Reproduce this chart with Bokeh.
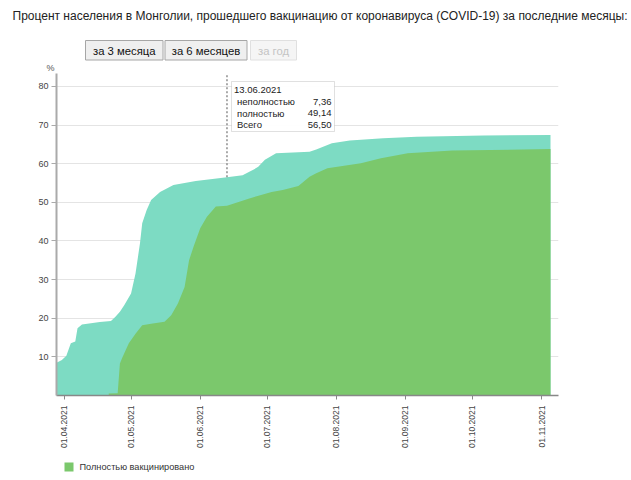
import numpy as np
import pandas as pd
from datetime import datetime
from bokeh.plotting import figure
from bokeh.layouts import column
from bokeh.models import (Range1d, FixedTicker, DatetimeTickFormatter,
                          BoxAnnotation, ColumnDataSource, Label)
from bokeh.core.properties import value
from bokeh.embed import file_html
from bokeh.resources import INLINE

# ---------------- data ----------------
total_dates = ["2021-03-28", "2021-03-31", "2021-04-02", "2021-04-04", "2021-04-06",
               "2021-04-07", "2021-04-09", "2021-04-17", "2021-04-22", "2021-04-24",
               "2021-04-26", "2021-04-28", "2021-05-01", "2021-05-03", "2021-05-05",
               "2021-05-06", "2021-05-08", "2021-05-10", "2021-05-14", "2021-05-20",
               "2021-05-30", "2021-06-13", "2021-06-20", "2021-06-23", "2021-06-25",
               "2021-06-27", "2021-06-30", "2021-07-05", "2021-07-20", "2021-07-23",
               "2021-07-30", "2021-08-07", "2021-08-22", "2021-09-06", "2021-10-06",
               "2021-11-05"]
total_values = [8.3, 9.2, 10.3, 13.5, 14.0,
                17.4, 18.4, 19.0, 19.3, 20.4,
                21.7, 23.4, 26.4, 31.6, 39.4,
                44.6, 48.0, 50.6, 52.7, 54.5,
                55.5, 56.5, 57.0, 57.9, 58.5,
                59.2, 61.0, 62.7, 63.1, 63.7,
                65.3, 66.0, 66.6, 67.0, 67.3,
                67.4]

full_dates = ["2021-04-21", "2021-04-25", "2021-04-26", "2021-04-27", "2021-04-30",
              "2021-05-03", "2021-05-06", "2021-05-10", "2021-05-16", "2021-05-19",
              "2021-05-22", "2021-05-25", "2021-05-27", "2021-05-29", "2021-06-01",
              "2021-06-04", "2021-06-08", "2021-06-13", "2021-06-23", "2021-07-03",
              "2021-07-08", "2021-07-15", "2021-07-20", "2021-07-23", "2021-07-28",
              "2021-08-12", "2021-08-21", "2021-09-02", "2021-09-22", "2021-11-05"]
full_values = [0.5, 0.6, 8.3, 9.7, 13.5,
               16.0, 18.2, 18.6, 19.1, 20.8,
               23.8, 28.1, 35.0, 38.5, 43.3,
               46.3, 48.9, 49.14, 51.0, 52.7,
               53.2, 54.2, 56.6, 57.5, 58.8,
               60.1, 61.4, 62.7, 63.4, 63.8]

month_ticks = ["2021-04-01", "2021-05-01", "2021-06-01", "2021-07-01",
               "2021-08-01", "2021-09-01", "2021-10-01", "2021-11-01"]
y_ticks = [10, 20, 30, 40, 50, 60, 70, 80]

tooltip_date = "2021-06-13"
tooltip_title = "13.06.2021"
tooltip_labels = ["неполностью", "полностью", "Всего"]
tooltip_values = ["7,36", "49,14", "56,50"]
tooltip_total = 56.50

title_text = "Процент населения в Монголии, прошедшего вакцинацию от коронавируса (COVID-19) за последние месяцы:"
buttons = ["за 3 месяца", "за 6 месяцев", "за год"]
legend_label = "Полностью вакцинировано"

TEAL = "#7ddbc3"
GREEN = "#7bc86c"
FONT = "Liberation Sans"
W = 631

# ---------------- header strip (title, buttons, unit) ----------------
TOP_H = 73
top = figure(width=W, height=TOP_H, x_range=Range1d(0, W), y_range=Range1d(TOP_H, 0),
             output_backend="svg", toolbar_location=None,
             x_axis_location=None, y_axis_location=None, min_border=0)
top.frame_align = False
top.outline_line_color = None
top.grid.visible = False

top.text(x=[12], y=[15], text=[title_text], text_font=value(FONT),
         text_font_size=value("12px"), text_color="#222222", text_baseline="middle")

btn_left = [85, 164.5, 250]
btn_right = [162.5, 246.5, 296]
btn_fill = ["#efefef", "#efefef", "#f5f5f5"]
btn_line = ["#a6a6a6", "#a6a6a6", "#e0e0e0"]
btn_text = ["#111111", "#111111", "#c4c4c4"]
top.quad(left=btn_left, right=btn_right, top=[40, 40, 40], bottom=[59.5, 59.5, 59.5],
         fill_color=btn_fill, line_color=btn_line, line_width=1)
top.text(x=[(a + b) / 2 for a, b in zip(btn_left, btn_right)], y=[50, 50, 50],
         text=buttons, text_font=value(FONT), text_font_size=value("11.3px"),
         text_color=btn_text, text_align="center", text_baseline="middle")
top.text(x=[50], y=[67], text=["%"], text_font=value(FONT),
         text_font_size=value("9px"), text_color="#555555",
         text_align="center", text_baseline="middle")

# ---------------- main chart ----------------
FL, FW, FH, FB = 56, 502, 322, 60
p = figure(width=W, height=FH + FB, x_axis_type="datetime",
           output_backend="svg", toolbar_location=None,
           min_border_left=FL, min_border_right=W - FL - FW,
           min_border_top=0, min_border_bottom=FB,
           x_range=Range1d(datetime(2021, 3, 28, 14), datetime(2021, 11, 8, 14)),
           y_range=Range1d(0, 83.35))
p.frame_align = False
p.outline_line_color = None

src_t = ColumnDataSource(dict(x=pd.to_datetime(total_dates), y=total_values))
src_f = ColumnDataSource(dict(x=pd.to_datetime(full_dates), y=full_values))
p.varea(x="x", y1=0, y2="y", source=src_t, fill_color=TEAL)
p.varea(x="x", y1=0, y2="y", source=src_f, fill_color=GREEN)

tick_ms = [pd.Timestamp(d).value // 10**6 for d in month_ticks]
p.xaxis.ticker = FixedTicker(ticks=tick_ms)
fmt = "%d.%m.%Y"
p.xaxis.formatter = DatetimeTickFormatter(milliseconds=fmt, seconds=fmt, minsec=fmt,
                                          minutes=fmt, hourmin=fmt, hours=fmt,
                                          days=fmt, months=fmt, years=fmt)
p.xaxis.major_label_orientation = np.pi / 2
p.xaxis.major_label_text_font = FONT
p.xaxis.major_label_text_font_size = "8.5px"
p.xaxis.major_label_text_color = "#444444"
p.xaxis.major_label_standoff = 6
p.xaxis.major_tick_out = 4
p.xaxis.major_tick_in = 0
p.xaxis.minor_tick_line_color = None
p.xaxis.axis_line_color = "#888888"
p.xaxis.axis_line_width = 1.5
p.xaxis.major_tick_line_color = "#888888"

p.yaxis.ticker = FixedTicker(ticks=y_ticks)
p.yaxis.major_label_text_font = FONT
p.yaxis.major_label_text_font_size = "9px"
p.yaxis.major_label_text_color = "#444444"
p.yaxis.major_tick_out = 5
p.yaxis.major_tick_in = 0
p.yaxis.minor_tick_line_color = None
p.yaxis.axis_line_color = "#aaaaaa"
p.yaxis.axis_line_width = 2
p.yaxis.major_tick_line_color = "#aaaaaa"
p.yaxis.major_label_standoff = 3

p.xgrid.grid_line_color = None
p.ygrid.ticker = FixedTicker(ticks=y_ticks)
p.ygrid.grid_line_color = "#e4e4e4"

# hover guide line at the highlighted date
td = pd.to_datetime([tooltip_date])
p.segment(x0=td, y0=[tooltip_total], x1=td, y1=[p.y_range.end],
          line_color="#555555", line_dash="2 2", line_width=1)


# tooltip (screen units relative to the frame; page y = 73 + FH - y)
def sy(py):
    return TOP_H + FH - py


p.add_layout(BoxAnnotation(left=231 - FL, right=334 - FL, top=sy(81), bottom=sy(131),
                           left_units="screen", right_units="screen",
                           top_units="screen", bottom_units="screen",
                           fill_color="white", fill_alpha=0.95,
                           line_color="#999999", line_width=1, level="overlay"))
tip_x = [233.5 - FL] + [236.5 - FL] * 3 + [331 - FL] * 3
tip_y = [sy(89)] + [sy(101 + i * 11.5) for i in range(3)] * 2
tip_t = [tooltip_title] + tooltip_labels + tooltip_values
tip_a = ["left"] * 4 + ["right"] * 3
for x_, y_, t_, a_ in zip(tip_x, tip_y, tip_t, tip_a):
    p.add_layout(Label(x=x_, y=y_, x_units="screen", y_units="screen", text=t_,
                       text_font=FONT, text_font_size="9.5px", text_color="#222222",
                       text_align=a_, text_baseline="middle", level="overlay"))

# ---------------- legend strip ----------------
BOT_H = 480 - TOP_H - FH - FB
bot = figure(width=W, height=BOT_H, x_range=Range1d(0, W), y_range=Range1d(BOT_H, 0),
             output_backend="svg", toolbar_location=None,
             x_axis_location=None, y_axis_location=None, min_border=0)
bot.frame_align = False
bot.outline_line_color = None
bot.grid.visible = False
ly = 466.5 - (480 - BOT_H)
bot.quad(left=[64], right=[73], top=[ly - 4.5], bottom=[ly + 4.5],
         fill_color=GREEN, line_color=None)
bot.text(x=[79], y=[ly], text=[legend_label], text_font=value(FONT),
         text_font_size=value("9.2px"), text_color="#333333", text_baseline="middle")

layout = column(top, p, bot, spacing=0)
open("out.html", "w").write(file_html(layout, INLINE))
